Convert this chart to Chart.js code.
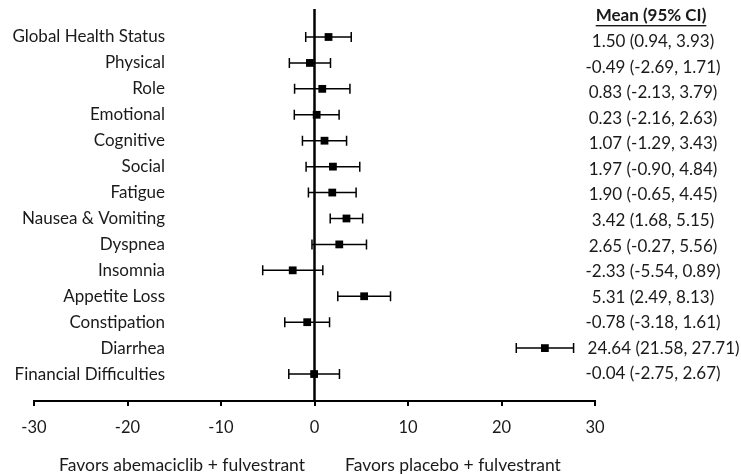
<!DOCTYPE html>
<html>
<head>
<meta charset="utf-8">
<script src="https://cdn.jsdelivr.net/npm/chart.js@4.4.0/dist/chart.umd.min.js"></script>
<style>
    html, body { margin: 0; padding: 0; background: #fff; }
    #wrap { width: 741px; height: 474px; }
</style>
</head>
<body>
<div id="wrap"><canvas id="forestChart"></canvas></div>
<script>
// Rows of the forest plot, top to bottom
const domains = ["Global Health Status", "Physical", "Role", "Emotional", "Cognitive", "Social",
    "Fatigue", "Nausea & Vomiting", "Dyspnea", "Insomnia", "Appetite Loss", "Constipation",
    "Diarrhea", "Financial Difficulties"];
const means = [1.50, -0.49, 0.83, 0.23, 1.07, 1.97, 1.90, 3.42, 2.65, -2.33, 5.31, -0.78, 24.64, -0.04];
const lowerCI = [-0.94, -2.69, -2.13, -2.16, -1.29, -0.90, -0.65, 1.68, -0.27, -5.54, 2.49, -3.18, 21.58, -2.75];
const upperCI = [3.93, 1.71, 3.79, 2.63, 3.43, 4.84, 4.45, 5.15, 5.56, 0.89, 8.13, 1.61, 27.71, 2.67];
// text column, as printed on the figure
const ciLabels = ["1.50 (0.94, 3.93)", "-0.49 (-2.69, 1.71)", "0.83 (-2.13, 3.79)", "0.23 (-2.16, 2.63)",
    "1.07 (-1.29, 3.43)", "1.97 (-0.90, 4.84)", "1.90 (-0.65, 4.45)", "3.42 (1.68, 5.15)",
    "2.65 (-0.27, 5.56)", "-2.33 (-5.54, 0.89)", "5.31 (2.49, 8.13)", "-0.78 (-3.18, 1.61)",
    "24.64 (21.58, 27.71)", "-0.04 (-2.75, 2.67)"];
const xTicks = [-30, -20, -10, 0, 10, 20, 30];

const FONT = "Lato, 'Open Sans', sans-serif";
const TEXT = "#1a1a1a";

//-------------------------------------------------------------------------------------------------
// error bars, zero line and the text columns
const forestPlugin = {
    id: 'forest',
    beforeDatasetsDraw(chart) {
        const ctx = chart.ctx;
        const x = chart.scales.x, y = chart.scales.y;
        ctx.save();
        // line of no effect
        ctx.strokeStyle = '#000';
        ctx.lineWidth = 2.5;
        ctx.beginPath();
        ctx.moveTo(x.getPixelForValue(0), chart.chartArea.top);
        ctx.lineTo(x.getPixelForValue(0), chart.chartArea.bottom);
        ctx.stroke();

        ctx.lineWidth = 1.5;
        means.forEach(function (m, i) {
            const py = y.getPixelForValue(i);
            const x1 = x.getPixelForValue(lowerCI[i]);
            const x2 = x.getPixelForValue(upperCI[i]);
            ctx.beginPath();
            ctx.moveTo(x1, py); ctx.lineTo(x2, py);
            ctx.moveTo(x1, py - 5); ctx.lineTo(x1, py + 5);
            ctx.moveTo(x2, py - 5); ctx.lineTo(x2, py + 5);
            ctx.stroke();
        });
        ctx.restore();
    },
    afterDraw(chart) {
        const ctx = chart.ctx;
        const x = chart.scales.x, y = chart.scales.y;
        ctx.save();
        ctx.fillStyle = TEXT;
        ctx.font = "17px " + FONT;
        ctx.textBaseline = 'middle';

        ctx.textAlign = 'right';
        domains.forEach(function (d, i) {
            ctx.fillText(d, 165, y.getPixelForValue(i));
        });

        // the value column sits a little lower at the top in the original
        ctx.textAlign = 'center';
        ciLabels.forEach(function (t, i) {
            const half = ctx.measureText(t).width / 2;
            // keep clear of a bar that runs into the column (Diarrhea)
            const cx = Math.max(653, x.getPixelForValue(upperCI[i]) + 14 + half);
            ctx.fillText(t, cx, y.getPixelForValue(i) + 4.5 - i * 0.35);
        });

        // header
        ctx.font = "bold 17px " + FONT;
        ctx.fillText("Mean (95% CI)", 651, 16);
        const w = ctx.measureText("Mean (95% CI)").width;
        ctx.fillRect(651 - w / 2, 25, w, 1.4);

        // direction labels
        ctx.font = "17.5px " + FONT;
        ctx.textAlign = 'right';
        ctx.fillText("Favors abemaciclib + fulvestrant", 305, 465);
        ctx.textAlign = 'left';
        ctx.fillText("Favors placebo + fulvestrant", 345, 465);
        ctx.restore();
    }
};

new Chart("forestChart", {
    type: 'scatter',
    data: {
        datasets: [{
            label: 'Mean',
            data: means.map(function (m, i) { return { x: m, y: i }; }),
            pointStyle: 'rect',
            pointRadius: 5.5,
            pointHoverRadius: 5.5,
            backgroundColor: '#000',
            borderColor: '#000',
            borderWidth: 0
        }]
    },
    options: {
        responsive: true,
        maintainAspectRatio: false,
        animation: false,
        events: [],
        layout: { padding: { left: 34, right: 146, top: 9, bottom: 0 } },
        plugins: { legend: { display: false }, tooltip: { enabled: false } },
        scales: {
            x: {
                type: 'linear',
                min: -30,
                max: 30,
                afterBuildTicks: function (axis) {
                    axis.ticks = xTicks.map(function (v) { return { value: v }; });
                },
                afterFit: function (axis) { axis.height = 73; },
                border: { display: true, color: '#000', width: 2 },
                grid: { drawOnChartArea: false, drawTicks: true, tickLength: 5, color: '#000', lineWidth: 2 },
                ticks: { color: TEXT, font: { family: FONT, size: 16.5 }, padding: 12, maxRotation: 0 }
            },
            y: {
                type: 'linear',
                reverse: true,
                min: -1.08,
                max: 14.04,
                display: false
            }
        }
    },
    plugins: [forestPlugin]
});
</script>
</body>
</html>
